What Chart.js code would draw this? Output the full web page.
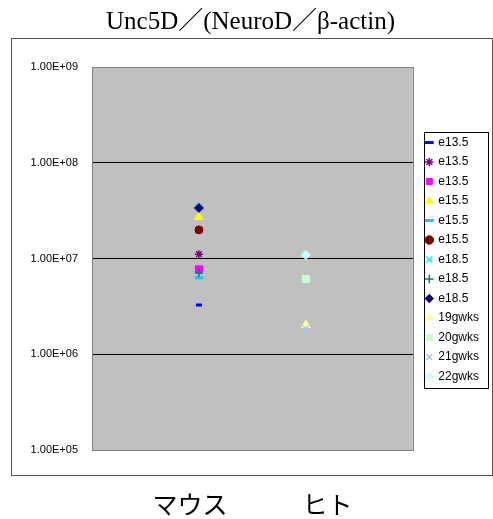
<!DOCTYPE html>
<html>
<head>
<meta charset="utf-8">
<script src="https://cdn.jsdelivr.net/npm/chart.js@4/dist/chart.umd.min.js"></script>
<style>
  html, body { margin: 0; padding: 0; background: #fff; }
  #wrap { width: 493px; height: 519px; }
</style>
</head>
<body>
<div id="wrap"><canvas id="unc5dChart"></canvas></div>
<script>
// --- data ---
const categories = ['マウス', 'ヒト'];
const seriesNames = ['e13.5', 'e13.5', 'e13.5', 'e15.5', 'e15.5', 'e15.5', 'e18.5', 'e18.5', 'e18.5',
                     '19gwks', '20gwks', '21gwks', '22gwks'];
const seriesCategory = [0, 0, 0, 0, 0, 0, 0, 0, 0, 1, 1, 1, 1];
const seriesValues = [3.27e6, 1.11e7, 7.7e6, 2.72e7, 6.3e6, 1.99e7, 3.5e7, 7.05e6, 3.37e7,
                      2.02e6, 6.1e6, 1.85e6, 1.09e7];
const yTicks = [1e5, 1e6, 1e7, 1e8, 1e9];
const yTickLabels = ['1.00E+05', '1.00E+06', '1.00E+07', '1.00E+08', '1.00E+09'];

// marker look per series (Excel style)
const markers = [
    { style: 'line',     color: '#0000ff', fill: true,  r: 3,   bw: 3 },
    { style: 'star',     color: '#800080', fill: false, r: 4,   bw: 1.5 },
    { style: 'rect',     color: '#ff00ff', fill: true,  r: 5,   bw: 1 },
    { style: 'triangle', color: '#ffff00', fill: true,  r: 5,   bw: 1 },
    { style: 'line',     color: '#00ccff', fill: true,  r: 4,   bw: 3 },
    { style: 'circle',   color: '#800000', fill: true,  r: 4,   bw: 1 },
    { style: 'crossRot', color: '#00ffff', fill: false, r: 4,   bw: 1.5 },
    { style: 'cross',    color: '#008080', fill: false, r: 4,   bw: 1.5 },
    { style: 'rectRot',  color: '#000080', fill: true,  r: 4.5, bw: 1 },
    { style: 'triangle', color: '#ffff99', fill: true,  r: 5,   bw: 1 },
    { style: 'rect',     color: '#ccffcc', fill: true,  r: 5,   bw: 1 },
    { style: 'crossRot', color: '#99ccff', fill: false, r: 4,   bw: 1.5 },
    { style: 'rectRot',  color: '#ccffff', fill: true,  r: 4.5, bw: 1 }
];

const datasets = seriesNames.map((name, i) => ({
    label: name,
    data: [{ x: seriesCategory[i] + 1, y: seriesValues[i] }],
    yAxisID: 'y',
    order: -i, // later series drawn on top, as in Excel
    pointStyle: markers[i].style,
    pointRadius: markers[i].r,
    pointHoverRadius: markers[i].r,
    borderWidth: markers[i].bw,
    borderColor: markers[i].color,
    backgroundColor: markers[i].fill ? markers[i].color : 'rgba(0,0,0,0)'
}));

// gray plot area, its border, the outer chart frame and the legend frame
const frames = {
    id: 'frames',
    beforeDraw(chart) {
        const { ctx, chartArea: a } = chart;
        ctx.save();
        ctx.fillStyle = '#fff';
        ctx.fillRect(0, 0, chart.width, chart.height);
        ctx.strokeStyle = '#555';
        ctx.lineWidth = 1;
        ctx.strokeRect(11.5, Math.round(a.top) - 28.5, chart.width - 12, 437);
        ctx.fillStyle = '#c0c0c0';
        ctx.fillRect(a.left, a.top, a.right - a.left, a.bottom - a.top);
        ctx.restore();
    },
    beforeDatasetsDraw(chart) {
        const { ctx, chartArea: a } = chart;
        ctx.save();
        ctx.strokeStyle = '#808080';
        ctx.lineWidth = 1;
        ctx.strokeRect(Math.round(a.left) + 0.5, Math.round(a.top) + 0.5,
                       Math.round(a.right - a.left), Math.round(a.bottom - a.top));
        ctx.restore();
    },
    afterDraw(chart) {
        const lg = chart.legend;
        const hb = lg.legendHitBoxes;
        if (!hb || !hb.length) return;
        const ctx = chart.ctx;
        const top = Math.round(hb[0].top) - 4.5;
        const last = hb[hb.length - 1];
        const bottom = Math.round(last.top + last.height) + 5.5;
        ctx.save();
        ctx.strokeStyle = '#000';
        ctx.lineWidth = 1;
        ctx.strokeRect(Math.round(lg.left) + 5.5, top, Math.round(lg.right - lg.left) - 6, bottom - top);
        ctx.restore();
    }
};

new Chart(document.getElementById('unc5dChart').getContext('2d'), {
    type: 'scatter',
    data: { datasets },
    plugins: [frames],
    options: {
        responsive: true,
        maintainAspectRatio: false,
        animation: false,
        layout: { padding: { left: 12, right: 4, top: 0, bottom: 0 } },
        plugins: {
            title: {
                display: true,
                text: 'Unc5D／(NeuroD／β-actin)',
                color: '#000',
                font: { family: "'Liberation Serif', 'Noto Sans CJK JP', serif", size: 25, weight: 'normal' },
                padding: { top: 7, bottom: 30 }
            },
            legend: {
                display: true,
                position: 'right',
                labels: {
                    usePointStyle: true,
                    boxWidth: 6,
                    boxHeight: 6,
                    padding: 7.5,
                    color: '#000',
                    font: { family: "'Liberation Sans', Arial, sans-serif", size: 12 },
                    sort: (a, b) => a.datasetIndex - b.datasetIndex
                }
            },
            tooltip: { enabled: false }
        },
        scales: {
            x: {
                type: 'linear',
                min: 0,
                max: categories.length + 1,
                grid: { display: false },
                border: { display: false },
                ticks: { display: false },
                title: {
                    display: true,
                    text: categories.join('　　　'),
                    color: '#000',
                    font: { family: "'Noto Sans CJK JP', sans-serif", size: 25, weight: 'normal' },
                    padding: { top: 0, bottom: 0 }
                },
                afterFit: (s) => { s.height = 69; }
            },
            y: {
                type: 'logarithmic',
                min: yTicks[0],
                max: yTicks[yTicks.length - 1],
                afterBuildTicks: (s) => { s.ticks = yTicks.map(v => ({ value: v })); },
                grid: {
                    drawTicks: false,
                    color: (c) => (c.index === 0 || c.index === yTicks.length - 1) ? 'rgba(0,0,0,0)' : '#000',
                    lineWidth: 1
                },
                border: { display: false },
                ticks: {
                    padding: 14,
                    color: '#000',
                    font: { family: "'Liberation Sans', Arial, sans-serif", size: 11 },
                    callback: (v) => yTickLabels[yTicks.indexOf(v)]
                },
                afterFit: (s) => { s.width = 80; }
            },
            gap: {
                type: 'linear',
                position: 'right',
                display: true,
                grid: { display: false },
                border: { display: false },
                ticks: { display: false },
                afterFit: (s) => { s.width = 6; }
            }
        }
    }
});
</script>
</body>
</html>
